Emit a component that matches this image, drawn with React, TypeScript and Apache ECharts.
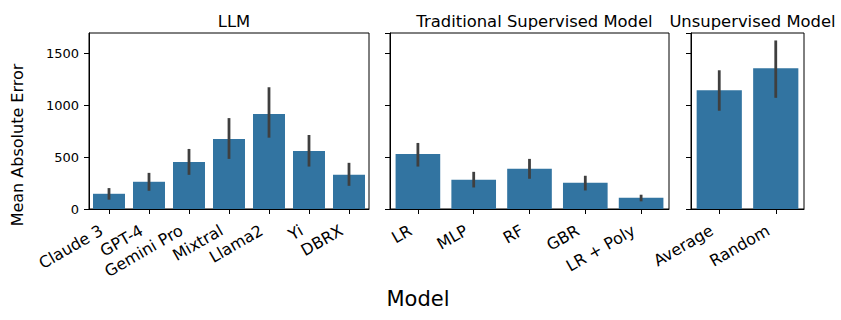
import React, { useEffect, useRef } from "react";
import * as echarts from "echarts";

const llmCats = ["Claude 3", "GPT-4", "Gemini Pro", "Mixtral", "Llama2", "Yi", "DBRX"];
const llmMean = [147, 263, 455, 676, 917, 561, 330];
const llmLow = [90, 176, 330, 484, 689, 410, 224];
const llmHigh = [202, 349, 580, 878, 1176, 715, 446];

const supCats = ["LR", "MLP", "RF", "GBR", "LR + Poly"];
const supMean = [532, 282, 388, 253, 109];
const supLow = [410, 208, 292, 179, 74];
const supHigh = [638, 359, 484, 321, 138];

const unsCats = ["Average", "Random"];
const unsMean = [1147, 1359];
const unsLow = [949, 1074];
const unsHigh = [1340, 1628];

const panelTitles = ["LLM", "Traditional Supervised Model", "Unsupervised Model"];
const yTicks = { min: 0, max: 1700, interval: 500 };
const yAxisTitle = "Mean Absolute Error";
const xAxisTitle = "Model";

const FONT = "DejaVu Sans";
const BAR = "#3274a1";
const ERR = "#3f3f3f";

export default function App() {
  const ref = useRef<HTMLDivElement>(null);
  useEffect(() => {
    if (!ref.current) return;
    const chart = echarts.init(ref.current, null, { renderer: "svg" });
    const grids = [
      { left: 89, top: 33, width: 280, height: 176 },
      { left: 390, top: 33, width: 279, height: 176 },
      { left: 691, top: 33, width: 113, height: 176 },
    ];
    const cats = [llmCats, supCats, unsCats];
    const means = [llmMean, supMean, unsMean];
    const lows = [llmLow, supLow, unsLow];
    const highs = [llmHigh, supHigh, unsHigh];

    const errRender = (params: any, api: any) => {
      const i = api.value(0);
      const p1 = api.coord([i, api.value(1)]);
      const p2 = api.coord([i, api.value(2)]);
      return {
        type: "line",
        shape: { x1: p1[0], y1: p1[1], x2: p2[0], y2: p2[1] },
        style: { stroke: ERR, lineWidth: 2.8 },
      };
    };

    const series: any[] = [];
    cats.forEach((c, k) => {
      series.push({
        type: "bar",
        xAxisIndex: k,
        yAxisIndex: k,
        data: means[k],
        barCategoryGap: "20%",
        itemStyle: { color: BAR },
        silent: true,
      });
      series.push({
        type: "custom",
        xAxisIndex: k,
        yAxisIndex: k,
        renderItem: errRender,
        encode: { x: 0, y: [1, 2] },
        data: c.map((_, i) => [i, lows[k][i], highs[k][i]]),
        z: 10,
        silent: true,
      });
    });

    chart.setOption({
      animation: false,
      textStyle: { fontFamily: FONT },
      title: panelTitles.map((t, k) => ({
        text: t,
        left: grids[k].left + grids[k].width / 2,
        top: 8,
        textAlign: "center",
        textStyle: { fontFamily: FONT, fontSize: 16.4, fontWeight: "normal", color: "#000" },
      })),
      grid: grids.map((g) => ({ ...g, show: true, borderColor: "#000", borderWidth: 1, containLabel: false })),
      xAxis: cats.map((c, k) => ({
        type: "category",
        gridIndex: k,
        data: c,
        axisLine: { show: true, lineStyle: { color: "#000", width: 1 } },
        axisTick: { show: true, alignWithLabel: true, length: 5, lineStyle: { color: "#000" } },
        axisLabel: {
          interval: 0,
          rotate: 30,
          fontFamily: FONT,
          fontSize: 16,
          color: "#000",
          margin: 25,
          align: "right",
          verticalAlign: "bottom",
          padding: [0, 4, 0, 0],
        },
      })),
      yAxis: cats.map((c, k) => ({
        type: "value",
        gridIndex: k,
        min: yTicks.min,
        max: yTicks.max,
        interval: yTicks.interval,
        splitLine: { show: false },
        axisLine: { show: true, lineStyle: { color: "#000", width: 1 } },
        axisTick: { show: true, length: 5, lineStyle: { color: "#000" } },
        axisLabel: {
          show: k === 0,
          fontFamily: FONT,
          fontSize: 13,
          color: "#000",
          margin: 10,
          showMaxLabel: false,
          formatter: (v: number) => String(v),
        },
      })),
      series,
      graphic: [
        {
          type: "text",
          x: 17,
          y: 145,
          rotation: Math.PI / 2,
          style: {
            text: yAxisTitle,
            fontFamily: FONT,
            fontSize: 16,
            fill: "#000",
            align: "center",
            verticalAlign: "middle",
          },
        },
        {
          type: "text",
          x: 418,
          y: 299,
          style: {
            text: xAxisTitle,
            fontFamily: FONT,
            fontSize: 21,
            fill: "#000",
            align: "center",
            verticalAlign: "middle",
          },
        },
      ],
    });
    return () => chart.dispose();
  }, []);
  return (
    <div
      ref={ref}
      style={{ position: "fixed", left: 0, top: 0, width: 841, height: 320, background: "#fff" }}
    />
  );
}
